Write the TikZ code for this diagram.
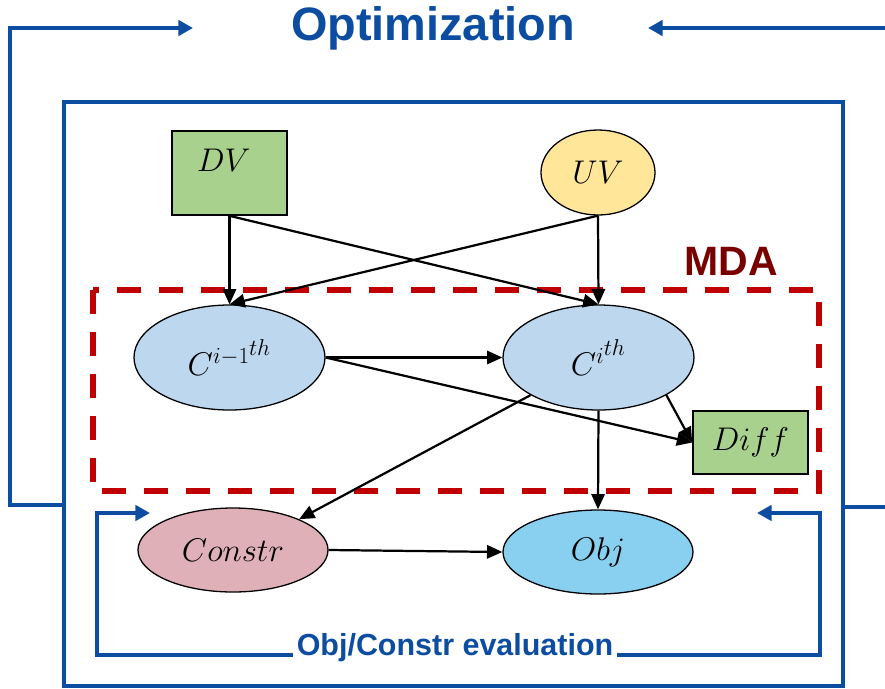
\RequirePackage{fix-cm}
\documentclass[tikz,border=0pt]{standalone}
\usepackage[no-math]{fontspec}
\setmainfont{Liberation Sans}
\usetikzlibrary{arrows.meta,shapes.geometric}
\definecolor{optblue}{HTML}{0D4DA1}
\definecolor{mdared}{HTML}{C00000}
\definecolor{mdatext}{HTML}{7A0000}
\definecolor{dvgreen}{HTML}{A9D18E}
\definecolor{uvyellow}{HTML}{FFE699}
\definecolor{compblue}{HTML}{BDD7EE}
\definecolor{constrpink}{HTML}{DFB0B8}
\definecolor{objblue}{HTML}{89CFF0}

\tikzset{
  varfont/.style={font=\fontsize{28}{32}\selectfont},
  varbox/.style={draw, line width=1.4pt, fill=dvgreen, rectangle, inner sep=0pt, varfont},
  varnode/.style={draw, line width=1.1pt, ellipse, inner sep=0pt, varfont},
  flow/.style={-{Triangle[length=0.46cm,width=0.4cm]}, line width=1.9pt},
  loopline/.style={optblue, line width=3.6pt},
  looparrow/.style={loopline, -{Triangle[length=0.44cm,width=0.46cm]}},
}

\begin{document}
\begin{tikzpicture}[x=0.03cm, y=-0.03cm]
  \useasboundingbox (0,0) rectangle (885,688);

  % outer frame and optimization loop
  \draw[optblue, line width=3pt] (64,102) rectangle (843,686);
  \node[font=\fontsize{40}{48}\selectfont\bfseries, text=optblue] (opt) at (433,28) {Optimization};
  \coordinate (optinl) at (193,28);
  \coordinate (optinr) at (648,28);
  \draw[looparrow] (64,505) -- (10,505) -- (10,28) -- (optinl);
  \draw[looparrow] (843,507) -- (895,507) -- (895,28) -- (optinr);

  % MDA block
  \draw[mdared, line width=4.5pt, dash pattern=on 0.72cm off 0.54cm] (93,290) rectangle (819,491);
  \node[font=\fontsize{35}{40}\selectfont\bfseries, text=mdatext] (mdalabel) at (731,261) {MDA};

  % variables and disciplines
  \node[varbox, minimum width=3.45cm, minimum height=2.52cm,
        label={[varfont, xshift=-0.17cm, yshift=0.39cm]center:$DV$}] (dv) at (229.5,173) {};
  \node[varnode, fill=uvyellow, minimum width=3.42cm, minimum height=2.55cm] (uv) at (598,172.5) {$UV$};
  \node[varnode, fill=compblue, minimum width=5.73cm, minimum height=3.15cm] (cprev) at (229.5,357.5) {$C^{i-1^{\scriptstyle th}}$};
  \node[varnode, fill=compblue, minimum width=5.73cm, minimum height=3.15cm] (ccur) at (598.5,357.5) {$C^{i^{\scriptstyle th}}$};
  \node[varbox, minimum width=3.45cm, minimum height=1.89cm] (diff) at (750.5,442.5) {$Diff$};
  \node[varnode, fill=constrpink, minimum width=5.7cm, minimum height=2.52cm] (constr) at (233,550) {$Constr$};
  \node[varnode, fill=objblue, minimum width=5.7cm, minimum height=2.52cm] (obj) at (598,552) {$Obj$};

  % data flow
  \draw[flow] (dv.south) -- (cprev.north);
  \draw[flow] (dv.south) -- (ccur.north);
  \draw[flow] (uv.south) -- (ccur.north);
  \draw[flow] (uv.south) -- (cprev.north);
  \draw[flow] (cprev.east) -- (ccur.west);
  \draw[flow] (cprev.east) -- (diff.west);
  \draw[flow] (ccur.-29) -- (diff.west);
  \draw[flow] (ccur.south) -- (obj.north);
  \draw[flow] (ccur.209) -- (constr.25);
  \draw[flow] (constr.east) -- (obj.west);

  % evaluation loop
  \node[font=\fontsize{26}{30}\selectfont\bfseries, text=optblue, anchor=base, inner sep=3pt] (evallabel) at (455,655) {Obj/Constr evaluation};
  \coordinate (evalinl) at (150,513);
  \coordinate (evalinr) at (757,513);
  \draw[looparrow] (evallabel.base west) -| (97,513) -- (evalinl);
  \draw[looparrow] (evallabel.base east) -| (820,513) -- (evalinr);
\end{tikzpicture}
\end{document}
